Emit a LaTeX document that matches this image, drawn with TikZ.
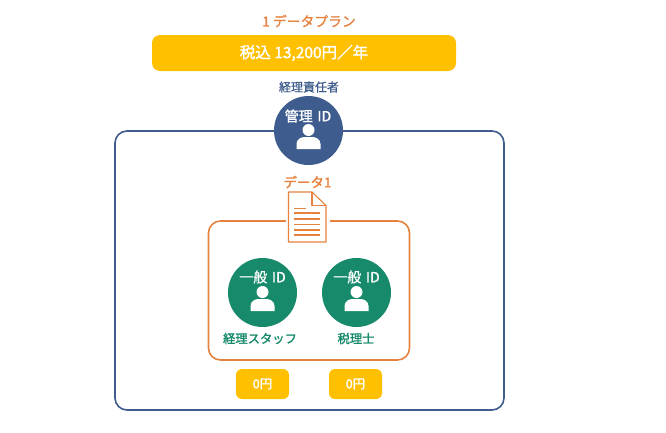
\documentclass[tikz,border=0pt]{standalone}
\usepackage{fontspec}
\setmainfont[FakeBold=1.8]{Noto Sans CJK JP}
\newfontfamily\lightfont[FakeBold=1]{Noto Sans CJK JP}
\usetikzlibrary{positioning}
\definecolor{planblue}{HTML}{3F5C8E}
\definecolor{planorange}{HTML}{E5823F}
\definecolor{planyellow}{HTML}{FFC000}
\definecolor{plangreen}{HTML}{178A6B}
\tikzset{
  idcircle/.style={circle, minimum size=69pt, inner sep=0pt},
  pricebox/.style={fill=planyellow, rounded corners=6pt, text=white, font=\fontsize{12.5}{15}\selectfont, inner sep=0pt},
  idlabel/.style={text=white, font=\lightfont\fontsize{14}{17}\selectfont, inner sep=0pt},
  person/.pic={
    \fill[white] (0,-7) circle (6);
    \fill[white] (-12,12) -- (-12,7) .. controls (-12,2) and (-7,0) .. (-4,0) -- (4,0) .. controls (7,0) and (12,2) .. (12,7) -- (12,12) -- cycle;
  }
}
\begin{document}
\begin{tikzpicture}[x=1pt, y=-1pt, every node/.style={font=\fontsize{12}{14}\selectfont}]
  \useasboundingbox (0,0) rectangle (666,432);
  % plan heading and price bar
  \node[text=planorange, font=\lightfont\fontsize{13.8}{16}\selectfont] (plantitle) at (309,21) {1 データプラン};
  \node[pricebox, minimum width=304pt, minimum height=36pt, rounded corners=8pt, font=\fontsize{15.5}{18}\selectfont] (planprice) at (304,53) {税込 13,200円／年};
  % outer frame with manager
  \draw[planblue, line width=1.6pt, rounded corners=12pt] (115,131) rectangle (504,410);
  \node[text=planblue, font=\lightfont\fontsize{12}{14}\selectfont] (managerrole) at (309,87) {経理責任者};
  \node[idcircle, fill=planblue] (manager) at (308.5,130.5) {};
  \node[idlabel] (managerid) at (308,116) {管理\,\,ID};
  \pic at (308.5,137) {person};
  % data frame and document
  \draw[planorange, line width=1.6pt, rounded corners=12pt] (208.5,221) rectangle (409.5,360);
  \node[text=planorange, font=\fontsize{13.5}{16}\selectfont] (datatitle) at (307.5,182) {データ1};
  \fill[white] (286,215) rectangle (330,245);
  \draw[planorange, line width=1.1pt, line join=round, fill=white] (288.5,192) -- (312,192) -- (326,205.5) -- (326,242) -- (288.5,242) -- cycle;
  \draw[planorange, line width=1.1pt, line join=round] (312,192) -- (312,205.5) -- (326,205.5);
  \draw[planorange, line width=1.1pt] (294,208.5) -- (306,208.5);
  \foreach \y in {213,219,224.5,230,235} {
    \draw[planorange, line width=1.1pt] (294,\y) -- (320,\y);
  }
  % general users
  \node[idcircle, fill=plangreen] (staff) at (262.5,292.5) {};
  \node[idlabel] (staffid) at (262.5,277) {一般\,\,ID};
  \pic at (262.5,299) {person};
  \node[text=plangreen, font=\fontsize{12.3}{14}\selectfont] (staffrole) at (260,338.5) {経理スタッフ};
  \node[idcircle, fill=plangreen] (advisor) at (356.5,292.5) {};
  \node[idlabel] (advisorid) at (356.5,277) {一般\,\,ID};
  \pic at (356.5,299) {person};
  \node[text=plangreen, font=\fontsize{12.3}{14}\selectfont] (advisorrole) at (356,338.5) {税理士};
  % prices per user
  \node[pricebox, minimum width=53pt, minimum height=30pt] (staffprice) at (262.5,384) {0円};
  \node[pricebox, minimum width=53pt, minimum height=30pt] (advisorprice) at (355.5,384) {0円};
\end{tikzpicture}
\end{document}
